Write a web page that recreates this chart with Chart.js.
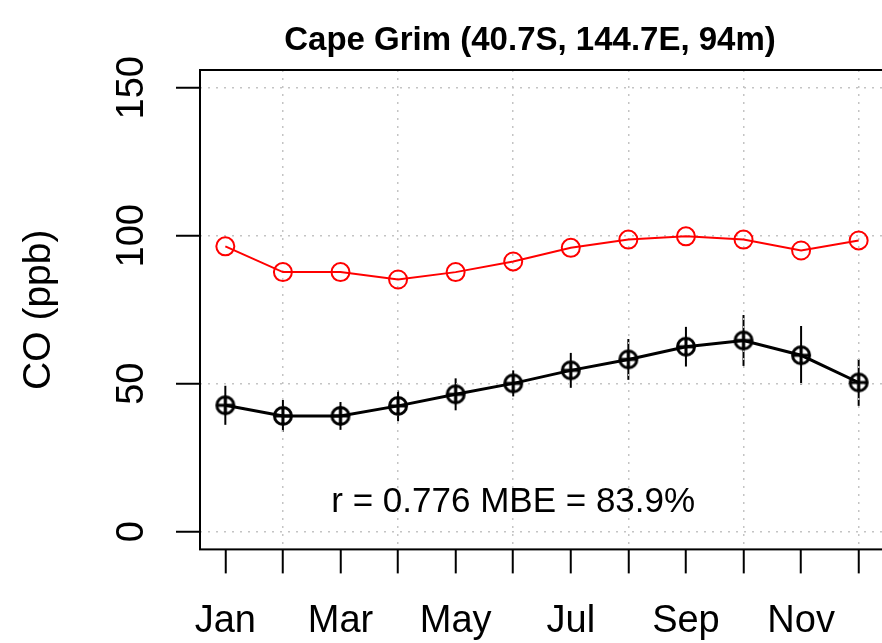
<!DOCTYPE html>
<html>
<head>
  <title>Cape Grim CO</title>
  <script src="https://cdn.jsdelivr.net/npm/chart.js"></script>
  <style>
    html, body { margin: 0; padding: 0; overflow: hidden; background: #fff; }
  </style>
</head>
<body>
  <canvas id="chart" width="895" height="643"></canvas>

  <script>

const months = ['Jan', 'Feb', 'Mar', 'Apr', 'May', 'Jun', 'Jul', 'Aug', 'Sep', 'Oct', 'Nov', 'Dec'];
const observed = [42.7, 39.1, 39.1, 42.5, 46.4, 50.1, 54.5, 58.2, 62.5, 64.6, 59.6, 50.4];
const observedErr = [6.6, 5.4, 4.7, 5.2, 5.4, 4.4, 5.9, 6.9, 6.7, 8.6, 9.9, 7.9];
const model = [96.4, 87.7, 87.7, 85.2, 87.7, 91.3, 95.9, 98.7, 99.8, 98.7, 95.0, 98.4];
const yTicks = [0, 50, 100, 150];
const titleText = 'Cape Grim (40.7S, 144.7E, 94m)';
const statsText = 'r = 0.776 MBE = 83.9%';

const font = 'Liberation Sans, Arial, Helvetica, sans-serif';
const gridGray = '#c4c4c4';

// circle with a cross inside (like R's pch 10)
function crossCircle(r, lw) {
  const c = document.createElement('canvas');
  const s = Math.ceil(2 * r + lw + 2);
  c.width = s; c.height = s;
  const g = c.getContext('2d');
  g.strokeStyle = 'black';
  g.lineWidth = lw;
  g.beginPath();
  g.arc(s / 2, s / 2, r, 0, Math.PI * 2);
  g.moveTo(s / 2 - r, s / 2); g.lineTo(s / 2 + r, s / 2);
  g.moveTo(s / 2, s / 2 - r); g.lineTo(s / 2, s / 2 + r);
  g.stroke();
  return c;
}

const errorBars = {
  id: 'errorBars',
  beforeDraw(chart) {
    const { ctx, scales: { x, y } } = chart;
    ctx.save();
    ctx.strokeStyle = 'black';
    ctx.lineWidth = 2;
    observed.forEach((v, i) => {
      const px = x.getPixelForValue(i + 1);
      ctx.beginPath();
      ctx.moveTo(px, y.getPixelForValue(v - observedErr[i]));
      ctx.lineTo(px, y.getPixelForValue(v + observedErr[i]));
      ctx.stroke();
    });
    ctx.restore();
  }
};

const frameAndText = {
  id: 'frameAndText',
  afterDraw(chart) {
    const { ctx, chartArea: a, scales: { x, y } } = chart;
    ctx.save();
    ctx.strokeStyle = 'black';
    ctx.lineWidth = 2;
    ctx.strokeRect(a.left, a.top, a.right - a.left, a.bottom - a.top);

    ctx.fillStyle = 'black';
    ctx.textAlign = 'center';
    ctx.textBaseline = 'middle';
    ctx.font = '35px ' + font;
    ctx.fillText(statsText, x.getPixelForValue(6), y.getPixelForValue(10));

    ctx.font = 'bold 33px ' + font;
    ctx.textBaseline = 'alphabetic';
    ctx.fillText(titleText, 530, 50);
    ctx.restore();
  }
};

const ctx = document.getElementById('chart').getContext('2d');

new Chart(ctx, {
  type: 'line',
  data: {
    datasets: [
      {
        label: 'Model',
        data: model.map((v, i) => ({ x: i + 1, y: v })),
        borderColor: '#ff0000',
        borderWidth: 2,
        pointRadius: 9,
        pointBorderWidth: 2,
        pointBorderColor: '#ff0000',
        pointBackgroundColor: 'rgba(0,0,0,0)',
        tension: 0
      },
      {
        label: 'Observed',
        data: observed.map((v, i) => ({ x: i + 1, y: v })),
        borderColor: 'black',
        borderWidth: 3,
        pointStyle: crossCircle(8.5, 3),
        tension: 0
      }
    ]
  },
  options: {
    responsive: false,
    animation: false,
    layout: { padding: { top: 70, right: 0, bottom: 0, left: 0 } },
    plugins: {
      legend: { display: false },
      tooltip: { enabled: false },
      title: { display: false }
    },
    scales: {
      x: {
        type: 'linear',
        min: 0.56,
        max: 12.44,
        afterBuildTicks: s => { s.ticks = months.map((m, i) => ({ value: i + 1 })); },
        afterFit: s => { s.height = 93.6; },
        ticks: {
          autoSkip: false,
          maxRotation: 0,
          padding: 25,
          color: 'black',
          font: { family: font, size: 38 },
          callback: v => (v % 2 === 1 ? months[v - 1] : '')
        },
        grid: {
          color: c => (c.tick && c.tick.value % 2 === 0 ? gridGray : 'rgba(0,0,0,0)'),
          lineWidth: 1.5,
          tickLength: 24,
          tickColor: 'black',
          tickWidth: 2
        },
        border: { display: false, dash: [2, 6] }
      },
      y: {
        type: 'linear',
        min: -6,
        max: 156,
        afterBuildTicks: s => { s.ticks = yTicks.map(v => ({ value: v })); },
        afterFit: s => { s.width = 200; },
        ticks: {
          minRotation: 90,
          maxRotation: 90,
          crossAlign: 'center',
          padding: 12,
          color: 'black',
          font: { family: font, size: 38 }
        },
        grid: {
          color: gridGray,
          lineWidth: 1.5,
          tickLength: 24,
          tickColor: 'black',
          tickWidth: 2
        },
        border: { display: false, dash: [2, 6] },
        title: {
          display: true,
          text: 'CO (ppb)',
          color: 'black',
          font: { family: font, size: 39 },
          padding: { top: 16, bottom: 0 }
        }
      }
    }
  },
  plugins: [errorBars, frameAndText]
});
  </script>
</body>
</html>
